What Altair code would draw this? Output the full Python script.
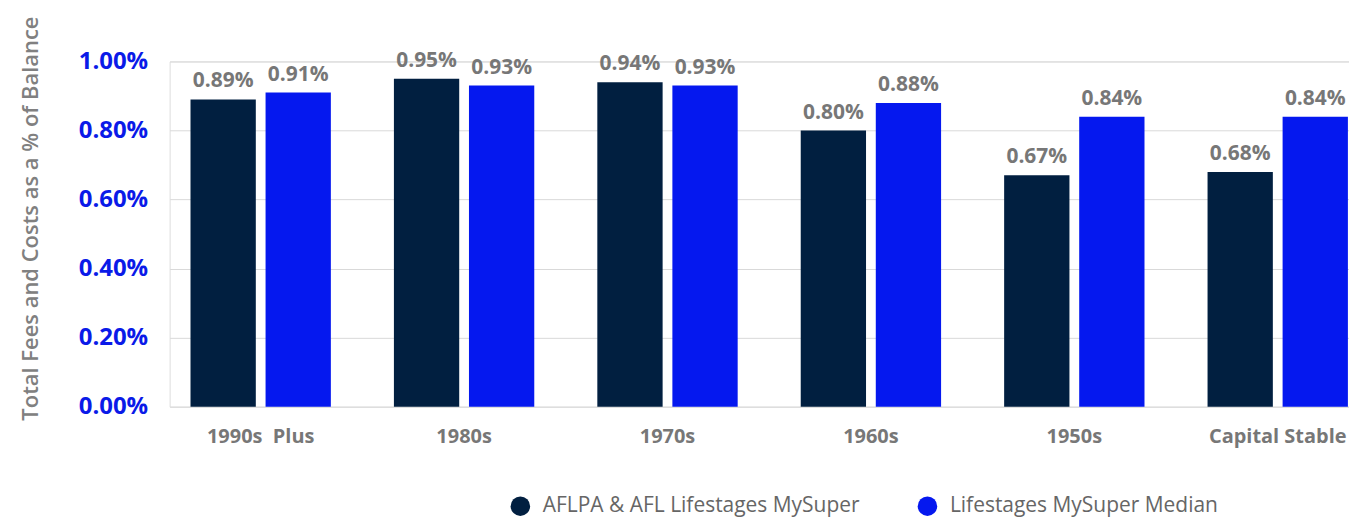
import altair as alt
import pandas as pd

categories = ["1990s\u00a0\u00a0Plus", "1980s", "1970s", "1960s", "1950s", "Capital Stable"]
series = ["AFLPA & AFL Lifestages MySuper", "Lifestages MySuper Median"]
aflpa_values = [0.89, 0.95, 0.94, 0.80, 0.67, 0.68]
median_values = [0.91, 0.93, 0.93, 0.88, 0.84, 0.84]
colors = ["#011f40", "#0518ef"]

rows = []
for c, a, m in zip(categories, aflpa_values, median_values):
    rows.append({"cat": c, "series": series[0], "value": a})
    rows.append({"cat": c, "series": series[1], "value": m})
df = pd.DataFrame(rows)

FONT = "Open Sans"

x = alt.X(
    "cat:N",
    sort=categories,
    title=None,
    scale=alt.Scale(paddingInner=0.31, paddingOuter=0.054, align=0.95),
    axis=alt.Axis(
        labelAngle=0, labelFontSize=20, labelFontWeight="bold", labelColor="#777777",
        labelFont=FONT, labelPadding=20, ticks=False, domain=False, grid=False,
    ),
)
xo = alt.XOffset("series:N", sort=series, scale=alt.Scale(paddingInner=0.13))
y = alt.Y(
    "value:Q",
    scale=alt.Scale(domain=[0, 1.0], nice=False),
    title="Total Fees and Costs as a % of Balance",
    axis=alt.Axis(
        values=[0, 0.2, 0.4, 0.6, 0.8, 1.0],
        labelExpr="format(datum.value, '.2f') + '%'",
        labelFontSize=24, labelFontWeight="bold", labelColor="#0a1ae8", labelFont=FONT,
        labelPadding=22, ticks=False, domain=False,
        gridColor="#d9d9d9", gridWidth=1,
        titleFontSize=22, titleFontWeight=600, titleColor="#808080", titleFont=FONT,
        titlePadding=36, titleY=157,
    ),
)

base = alt.Chart(df).encode(x=x, xOffset=xo, y=y)

bars = base.mark_bar().encode(
    color=alt.Color(
        "series:N", sort=series,
        scale=alt.Scale(domain=series, range=colors),
        legend=alt.Legend(
            orient="none", legendX=341, legendY=435, direction="horizontal",
            title=None, symbolType="circle", symbolSize=380, symbolStrokeWidth=0,
            labelFontSize=21, labelColor="#666666", labelFont=FONT,
            columnPadding=57, labelOffset=12, labelLimit=600,
        ),
    )
)

labels = base.mark_text(
    baseline="bottom", dy=-8, fontSize=21, fontWeight="bold", color="#777777", font=FONT
).transform_calculate(
    label="format(datum.value, '.2f') + '%'"
).encode(text="label:N")

chart = (
    alt.layer(bars, labels)
    .properties(width=1182, height=346, padding={"left": 11, "top": 7, "right": 0, "bottom": 0})
    .configure_view(stroke=None)
    .configure(background="white")
)

chart.save("out.html", embed_options={"renderer": "svg", "actions": False})
